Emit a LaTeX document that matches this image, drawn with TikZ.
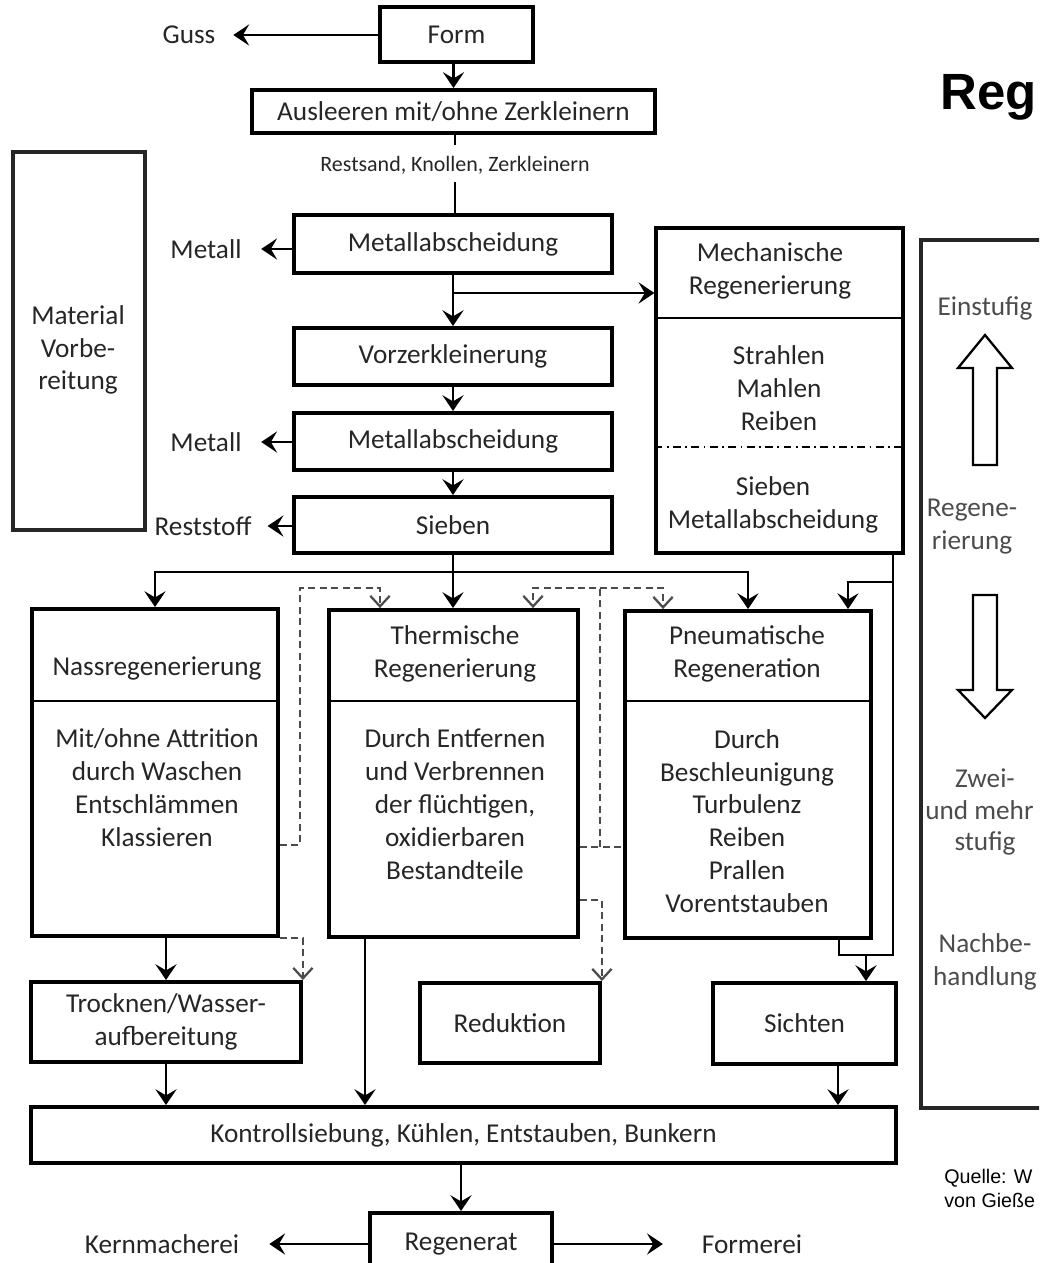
\documentclass[tikz,border=0pt]{standalone}
\usepackage{fontspec}
\setmainfont{Carlito}
\newfontfamily\arialfont{Liberation Sans}
\usetikzlibrary{arrows.meta}

\begin{document}
\begin{tikzpicture}[x=0.02cm, y=-0.02cm,
        font=\fontsize{15.5}{18.7}\selectfont, text=black!85,
        box/.style={draw=black, line width=2.2pt, inner sep=0pt, align=center},
        frame/.style={draw=black!85, line width=1.8pt, inner sep=0pt},
        lbl/.style={inner sep=0pt, align=center},
        flow/.style={line width=1.6pt, -{Stealth[length=9pt, width=12pt, inset=3.5pt]}},
        link/.style={line width=1.6pt},
        alt/.style={line width=1.4pt, draw=black!70, dash pattern=on 4pt off 2.5pt},
        altflow/.style={alt, -{Straight Barb[length=6pt, width=11pt, line width=1.3pt]}}]
    \useasboundingbox (0,0) rectangle (1039,1263);
    \clip (0,0) rectangle (1039,1263);

    % Materialvorbereitung
    \node[box, minimum width=3.06cm, minimum height=1.1cm] (form) at (456.5,34.5) {Form};
    \node[box, minimum width=8.06cm, minimum height=0.86cm] (ausl) at (453.5,111.5) {Ausleeren mit/ohne Zerkleinern};
    \node[lbl, font=\fontsize{12.5}{15}\selectfont] (rest) at (455,165) {Restsand, Knollen, Zerkleinern};
    \node[box, minimum width=6.36cm, minimum height=1.16cm] (ma1) at (453,244) {Metallabscheidung};
    \node[box, minimum width=6.36cm, minimum height=1.14cm] (vorz) at (453,356.5) {Vorzerkleinerung};
    \node[box, minimum width=6.36cm, minimum height=1.14cm] (ma2) at (453,441.5) {Metallabscheidung};
    \node[box, minimum width=6.36cm, minimum height=1.12cm] (sieb) at (453,525) {Sieben};

    \node[lbl] (guss) at (189,35) {Guss};
    \node[lbl] (metall1) at (206,249) {Metall};
    \node[lbl] (metall2) at (206,442) {Metall};
    \node[lbl] (reststoff) at (203,526) {Reststoff};

    \node[frame, minimum width=2.64cm, minimum height=7.56cm] (vorb) at (79,341) {};
    \node[lbl] (vorbtext) at (78,350) {Material\\Vorbe-\\reitung};

    % Regenerierung
    \node[box, line width=1.8pt, minimum width=4.94cm, minimum height=6.5cm] (mech) at (779.5,390.5) {};
    \draw[link] (mech.west |- 0,318) -- (mech.east |- 0,318);
    \draw[line width=1.4pt, dash pattern=on 4.5pt off 2.5pt on 1pt off 2.5pt] (mech.west |- 0,447) -- (mech.east |- 0,447);
    \node[lbl] (mechkopf) at (770,270.5) {Mechanische\\Regenerierung};
    \node[lbl] (mechverf) at (779,388) {Strahlen\\Mahlen\\Reiben};
    \node[lbl] (mechnach) at (773,504.5) {Sieben\\Metallabscheidung};

    \node[box, minimum width=4.92cm, minimum height=6.54cm] (nass) at (155,772.5) {};
    \node[box, minimum width=4.98cm, minimum height=6.54cm] (therm) at (453.5,773.5) {};
    \node[box, minimum width=4.92cm, minimum height=6.54cm] (pneum) at (748,774.5) {};
    \foreach \b in {nass, therm, pneum}
        \draw[link] (\b.west |- 0,701) -- (\b.east |- 0,701);

    \node[lbl] (nasskopf) at (157,668) {Nassregenerierung};
    \node[lbl] (nassverf) at (157,787.5) {Mit/ohne Attrition\\durch Waschen\\Entschlämmen\\Klassieren};
    \node[lbl] (thermkopf) at (455,653.5) {Thermische\\Regenerierung};
    \node[lbl] (thermverf) at (455,804) {Durch Entfernen\\und Verbrennen\\der flüchtigen,\\oxidierbaren\\Bestandteile};
    \node[lbl] (pneumkopf) at (747,653.5) {Pneumatische\\Regeneration};
    \node[lbl] (pneumverf) at (747,821) {Durch\\Beschleunigung\\Turbulenz\\Reiben\\Prallen\\Vorentstauben};

    % Nachbehandlung
    \node[box, minimum width=5.4cm, minimum height=1.6cm] (trock) at (166,1022) {Trocknen/Wasser-\\aufbereitung};
    \node[box, minimum width=3.6cm, minimum height=1.6cm] (red) at (510,1023) {Reduktion};
    \node[box, minimum width=3.66cm, minimum height=1.62cm] (sicht) at (804.5,1023.5) {Sichten};
    \node[box, minimum width=17.3cm, minimum height=1.12cm] (kontr) at (463.5,1135) {Kontrollsiebung, Kühlen, Entstauben, Bunkern};
    \node[box, minimum width=3.64cm, minimum height=1.24cm] (regen) at (461,1244) {Regenerat};
    \node[lbl] (kern) at (162,1244) {Kernmacherei};
    \node[lbl] (formerei) at (752,1244) {Formerei};

    % Hauptstrang
    \draw[flow, shorten >=10pt] (form.west |- guss.east) -- (guss.east);
    \draw[flow] (form.south -| ausl.north) -- (ausl.north);
    \draw[link] (ausl.south -| rest.north) -- ++(0,10);
    \draw[link] (rest.south) ++(0,8) -- (rest.south |- ma1.north);
    \draw[flow, shorten >=11pt] (ma1.west |- metall1.east) -- (metall1.east);
    \coordinate (mabzweig) at (453,293);
    \draw[flow] (ma1.south) -- (vorz.north);
    \draw[flow] (mabzweig) -- (mabzweig -| mech.west);
    \draw[flow] (vorz.south) -- (ma2.north);
    \draw[flow, shorten >=11pt] (ma2.west |- metall2.east) -- (metall2.east);
    \draw[flow] (ma2.south) -- (sieb.north);
    \draw[flow, shorten >=9pt] (sieb.west |- reststoff.east) -- (reststoff.east);

    % Verteilung
    \coordinate (split) at (453,572);
    \draw[flow] (sieb.south) -- (sieb.south |- therm.north);
    \draw[flow] (split) -| (nass.north);
    \draw[flow] (split) -| (pneum.north);

    \coordinate (mtap) at (893,582);
    \coordinate (mbot) at (893,955);
    \coordinate (sjoin) at (866,955);
    \draw[link] (mech.south -| mtap) -- (mbot) -| (pneum.south -| 839,0);
    \draw[flow] (mtap) -| (pneum.north -| 848,0);
    \draw[flow] (sjoin) -- (sjoin |- sicht.north);

    % Alternative Wege
    \draw[altflow] (nass.east |- 0,845) -| (300,588) -| (therm.north -| 380,0);
    \draw[alt] (therm.east |- 0,847) -- (pneum.west |- 0,847);
    \draw[altflow] (600,847) -- (600,588) -| (therm.north -| 533,0);
    \draw[altflow] (600,588) -| (pneum.north -| 663,0);
    \draw[altflow] (nass.south east) -| (trock.north east);
    \draw[altflow] (therm.east |- 0,900) -| (red.north east);

    \draw[flow] (nass.south -| trock.north) -- (trock.north);
    \draw[flow] (therm.south -| 365,0) -- (kontr.north -| 365,0);
    \draw[flow] (trock.south) -- (trock.south |- kontr.north);
    \draw[flow] (sicht.south -| 838,0) -- (kontr.north -| 838,0);
    \draw[flow] (kontr.south -| regen.north) -- (regen.north);
    \draw[flow, shorten >=17pt] (regen.west |- kern.east) -- (kern.east);
    \draw[flow, shorten >=22pt] (regen.east |- formerei.west) -- (formerei.west);

    % Stufen
    \draw[frame] (921,240) rectangle (1060,1108);
    \begin{scope}[text=black!70]
        \node[lbl] (einst) at (985,308) {Einstufig};
        \node[lbl] (regstufe) at (972,526.5) {Regene-\\rierung};
        \node[lbl] (zwei) at (985,778) {Zwei-};
        \node[lbl, anchor=west] (mehr) at (925,810) {und mehr};
        \node[lbl] (stufig) at (985,843) {stufig};
        \node[lbl] (nachbe) at (985,961.5) {Nachbe-\\handlung};
    \end{scope}
    \draw[line width=1.3pt] (985,335) -- (1012,368) -- (997,368) -- (997,465) -- (973,465) -- (973,368) -- (958,368) -- cycle;
    \draw[line width=1.3pt] (973,595) -- (997,595) -- (997,690) -- (1012,690) -- (985,718) -- (958,690) -- (973,690) -- cycle;

    \node[lbl, anchor=base west, text=black, font=\arialfont\bfseries\fontsize{29}{34}\selectfont] (titel) at (940,110) {Reg};
    \node[lbl, anchor=base west, text=black, font=\arialfont\fontsize{11.2}{13.6}\selectfont] (quelle1) at (944,1183) {Quelle: W};
    \node[lbl, anchor=base west, text=black, font=\arialfont\fontsize{11.2}{13.6}\selectfont] (quelle2) at (944,1207) {von Gieße};
\end{tikzpicture}
\end{document}
